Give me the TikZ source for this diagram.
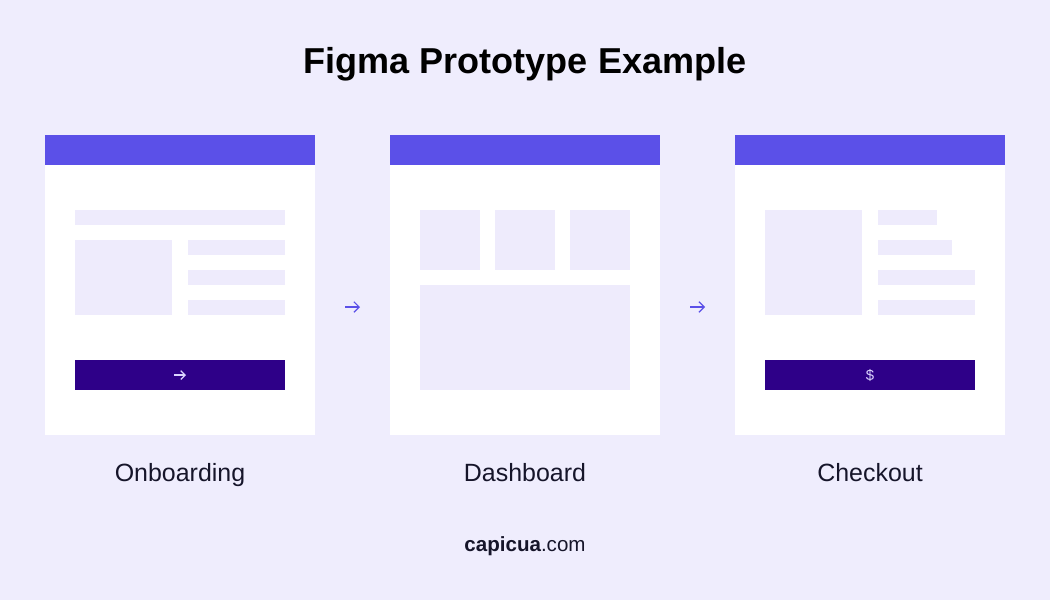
\documentclass[tikz,border=0pt]{standalone}
\usepackage{fontspec}
\setmainfont{Liberation Sans}
\usetikzlibrary{arrows.meta}
\definecolor{bgc}{HTML}{EFEDFD}
\definecolor{headc}{HTML}{5B50E8}
\definecolor{blockc}{HTML}{EEEBFC}
\definecolor{btnc}{HTML}{2E0088}
\definecolor{glyphc}{HTML}{DCD4FF}
\definecolor{inkc}{HTML}{16152A}
\begin{document}
\begin{tikzpicture}[x=0.02cm, y=-0.02cm,
    panel/.style={fill=white},
    header/.style={fill=headc},
    block/.style={fill=blockc},
    button/.style={fill=btnc},
    flow/.style={-{Straight Barb[length=3pt,width=6pt]}, headc, line width=0.7pt},
    label/.style={font=\fontsize{14.2}{17}\selectfont, text=inkc, anchor=base}
  ]
\fill[bgc] (0,0) rectangle (1050,600);
\useasboundingbox (0,0) rectangle (1050,600);

% Title
\node[font=\fontsize{20.5}{24}\selectfont\bfseries, text=black, anchor=base] (title) at (525,73) {Figma Prototype Example};

\begin{scope}[shift={(45,135)}]
        % Onboarding screen
        \fill[panel] (0,0) rectangle (270,300);
        \fill[header] (0,0) rectangle (270,30);
        \coordinate (P1in) at (0,172);
        \coordinate (P1out) at (270,172);

        \fill[block] (30,75) rectangle (240,90);      % top bar
        \fill[block] (30,105) rectangle (127,180);    % picture
        \fill[block] (143,105) rectangle (240,120);   % line 1
        \fill[block] (143,135) rectangle (240,150);   % line 2
        \fill[block] (143,165) rectangle (240,180);   % line 3

        \fill[button] (30,225) rectangle (240,255);
        \coordinate (B1s) at (129,240);
        \coordinate (B1e) at (141,240);
        \draw[-{Straight Barb[length=2.5pt,width=5pt]}, glyphc, line width=0.7pt] (B1s) -- (B1e);

        \node[label] (onboarding) at (135,346) {Onboarding};
\end{scope}

\begin{scope}[shift={(390,135)}]
        % Dashboard screen
        \fill[panel] (0,0) rectangle (270,300);
        \fill[header] (0,0) rectangle (270,30);
        \coordinate (P2in) at (0,172);
        \coordinate (P2out) at (270,172);

        \fill[block] (30,75) rectangle (90,135);      % card 1
        \fill[block] (105,75) rectangle (165,135);    % card 2
        \fill[block] (180,75) rectangle (240,135);    % card 3
        \fill[block] (30,150) rectangle (240,255);    % chart

        \node[label] (dashboard) at (135,346) {Dashboard};
\end{scope}

\begin{scope}[shift={(735,135)}]
        % Checkout screen
        \fill[panel] (0,0) rectangle (270,300);
        \fill[header] (0,0) rectangle (270,30);
        \coordinate (P3in) at (0,172);

        \fill[block] (30,75) rectangle (127,180);     % picture
        \fill[block] (143,75) rectangle (202,90);     % line 1
        \fill[block] (143,105) rectangle (217,120);   % line 2
        \fill[block] (143,135) rectangle (240,150);   % line 3
        \fill[block] (143,165) rectangle (240,180);   % line 4

        \fill[button] (30,225) rectangle (240,255);
        \node[text=glyphc, font=\fontsize{8.5}{10}\selectfont] (dollar) at (135,240) {\$};

        \node[label] (checkout) at (135,346) {Checkout};
\end{scope}

% Arrows between screens
\draw[flow] ([xshift=0.6cm]P1out) -- ([xshift=-0.6cm]P2in);
\draw[flow] ([xshift=0.6cm]P2out) -- ([xshift=-0.6cm]P3in);

% Footer
\node[font=\fontsize{11.7}{14}\selectfont, text=inkc, anchor=base] (site) at (525,551) {\textbf{capicua}.com};
\end{tikzpicture}
\end{document}
